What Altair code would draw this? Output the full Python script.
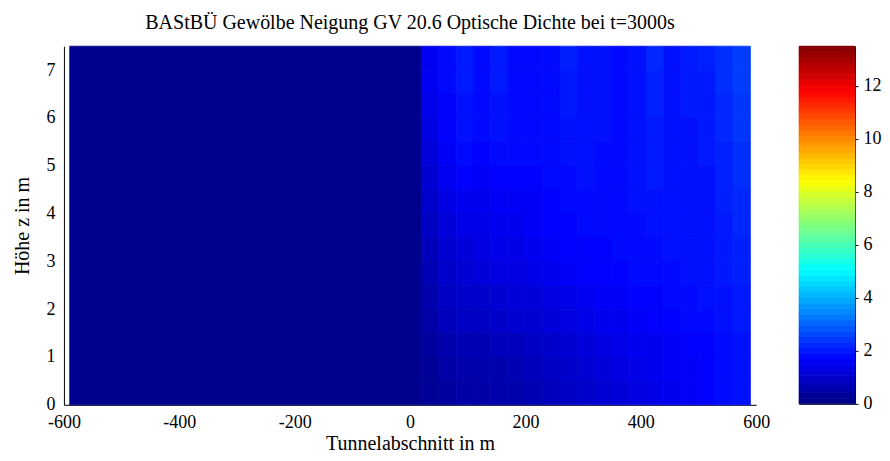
import altair as alt
import pandas as pd
import numpy as np

# --- data ---
LEFT_X = [-590, 20]          # uniform low region
LEFT_VALUE = 0.2
X_EDGES = [20, 50, 80, 110, 140, 170, 200, 230, 260, 290, 320, 350, 380, 410, 440, 470, 500, 530, 560, 590]
Y_EDGES = [7.5, 7.0, 6.5, 6.0, 5.5, 5.0, 4.5, 4.0, 3.5, 3.0, 2.5, 2.0, 1.5, 1.0, 0.5, 0.0]
ROWS = [
    [1.5, 1.8, 2.0, 1.8, 2.0, 1.8, 1.8, 1.8, 2.1, 1.9, 1.9, 1.8, 1.9, 2.2, 1.9, 2.0, 2.1, 2.3, 2.5],
    [1.5, 1.8, 2.0, 1.8, 2.0, 1.8, 1.8, 1.8, 2.0, 1.9, 1.9, 1.8, 1.9, 2.1, 1.9, 2.0, 2.0, 2.3, 2.5],
    [1.4, 1.7, 1.9, 1.8, 1.9, 1.8, 1.8, 1.8, 2.0, 1.9, 1.9, 1.8, 1.9, 2.1, 1.9, 2.0, 2.0, 2.2, 2.4],
    [1.3, 1.7, 1.9, 1.8, 1.9, 1.8, 1.8, 1.8, 1.9, 1.9, 1.9, 1.8, 1.9, 2.0, 1.9, 1.9, 2.0, 2.2, 2.4],
    [1.2, 1.6, 1.8, 1.7, 1.8, 1.8, 1.8, 1.8, 1.9, 1.9, 1.8, 1.8, 1.9, 2.0, 1.9, 1.9, 2.0, 2.1, 2.3],
    [1.1, 1.5, 1.7, 1.6, 1.7, 1.7, 1.7, 1.8, 1.8, 1.9, 1.8, 1.8, 1.9, 2.0, 1.9, 1.9, 1.9, 2.1, 2.3],
    [1.0, 1.3, 1.5, 1.5, 1.6, 1.6, 1.6, 1.7, 1.8, 1.8, 1.8, 1.8, 1.9, 1.9, 1.9, 1.9, 1.9, 2.1, 2.2],
    [0.9, 1.2, 1.4, 1.4, 1.5, 1.5, 1.6, 1.7, 1.7, 1.8, 1.8, 1.8, 1.8, 1.9, 1.9, 1.9, 1.9, 2.0, 2.2],
    [0.8, 1.1, 1.2, 1.3, 1.4, 1.4, 1.5, 1.6, 1.7, 1.7, 1.7, 1.8, 1.8, 1.8, 1.9, 1.9, 1.9, 2.0, 2.1],
    [0.7, 1.0, 1.1, 1.2, 1.3, 1.3, 1.4, 1.5, 1.6, 1.7, 1.7, 1.7, 1.8, 1.8, 1.8, 1.9, 1.9, 2.0, 2.1],
    [0.6, 0.9, 1.0, 1.0, 1.1, 1.2, 1.2, 1.3, 1.4, 1.5, 1.6, 1.6, 1.7, 1.7, 1.8, 1.8, 1.9, 1.9, 2.0],
    [0.5, 0.8, 0.9, 0.9, 1.0, 1.1, 1.1, 1.2, 1.3, 1.4, 1.5, 1.5, 1.6, 1.7, 1.7, 1.8, 1.8, 1.9, 2.0],
    [0.4, 0.6, 0.7, 0.7, 0.8, 0.8, 0.9, 1.0, 1.1, 1.2, 1.3, 1.4, 1.5, 1.5, 1.6, 1.7, 1.7, 1.8, 1.9],
    [0.3, 0.5, 0.6, 0.6, 0.6, 0.7, 0.8, 0.9, 1.0, 1.1, 1.2, 1.3, 1.4, 1.5, 1.6, 1.6, 1.7, 1.8, 1.9],
    [0.3, 0.4, 0.5, 0.5, 0.6, 0.6, 0.7, 0.8, 0.9, 1.0, 1.1, 1.2, 1.3, 1.4, 1.5, 1.6, 1.7, 1.8, 1.9],
]
X_TICKS = [-600, -400, -200, 0, 200, 400, 600]
Y_TICKS = [0, 1, 2, 3, 4, 5, 6, 7]
CB_TICKS = [0, 2, 4, 6, 8, 10, 12]
CB_MAX = 13.5
TITLE = "BAStBÜ Gewölbe Neigung GV 20.6 Optische Dichte bei t=3000s"

# jet colour map
JET_DOMAIN = [0, CB_MAX * 0.125, CB_MAX * 0.375, CB_MAX * 0.625, CB_MAX * 0.875, CB_MAX]
JET_RANGE = ["#000080", "#0000ff", "#00ffff", "#ffff00", "#ff0000", "#800000"]

recs = [dict(x=LEFT_X[0], x2=LEFT_X[1], y=0.0, y2=7.5, v=LEFT_VALUE)]
for r, row in enumerate(ROWS):
    for c, val in enumerate(row):
        recs.append(dict(x=X_EDGES[c], x2=X_EDGES[c + 1], y=Y_EDGES[r + 1], y2=Y_EDGES[r], v=val))
df = pd.DataFrame(recs)

FONT = "Liberation Serif"
color_scale = alt.Scale(domain=JET_DOMAIN, range=JET_RANGE, interpolate="rgb", clamp=True)
HYPHEN = "datum.value < 0 ? '-' + abs(datum.value) : '' + datum.value"

main = alt.Chart(df, title=alt.TitleParams(TITLE, fontSize=20, font=FONT, fontWeight="normal", offset=13)).mark_rect(strokeWidth=0.8).encode(
    x=alt.X("x:Q", scale=alt.Scale(domain=[-600, 600], nice=False),
            axis=alt.Axis(values=X_TICKS, title="Tunnelabschnitt in m", grid=False, ticks=False,
                          labelPadding=9, titlePadding=2, labelExpr=HYPHEN, labelFlush=False)),
    x2="x2:Q",
    y=alt.Y("y:Q", scale=alt.Scale(domain=[0, 7.5], nice=False),
            axis=alt.Axis(values=Y_TICKS, title="Höhe z in m", grid=False, ticks=False,
                          labelPadding=9, titlePadding=13, labelFlush=False)),
    y2="y2:Q",
    color=alt.Color("v:Q", scale=color_scale, legend=None),
    stroke=alt.Color("v:Q", scale=color_scale, legend=None),
).properties(width=693, height=359)

# colour bar (legend)
nb = 64
edges = np.linspace(0, CB_MAX, nb + 1)
cb_df = pd.DataFrame(dict(lo=edges[:-1], hi=edges[1:], mid=(edges[:-1] + edges[1:]) / 2))
cbar = alt.Chart(cb_df).mark_rect(strokeWidth=0.8).encode(
    y=alt.Y("lo:Q", scale=alt.Scale(domain=[0, CB_MAX], nice=False),
            axis=alt.Axis(orient="right", values=CB_TICKS, title=None, grid=False, tickSize=3,
                          labelPadding=5, domain=False, labelFlush=False)),
    y2="hi:Q",
    color=alt.Color("mid:Q", scale=color_scale, legend=None),
    stroke=alt.Color("mid:Q", scale=color_scale, legend=None),
).properties(width=56, height=358, view=alt.ViewBackground(stroke="black", strokeWidth=1))

chart = alt.hconcat(main, cbar, spacing=43, bounds="flush").configure_view(stroke=None).configure_axis(
    labelFont=FONT, titleFont=FONT, labelFontSize=18, titleFontSize=20, labelColor="black",
    titleColor="black", titleFontWeight="normal", domainColor="black", tickColor="black"
).configure_title(color="black").properties(
    background="white", padding={"left": 5, "top": 4, "right": 0, "bottom": 0})

chart.save("out.html", embed_options={"renderer": "svg", "actions": False})
